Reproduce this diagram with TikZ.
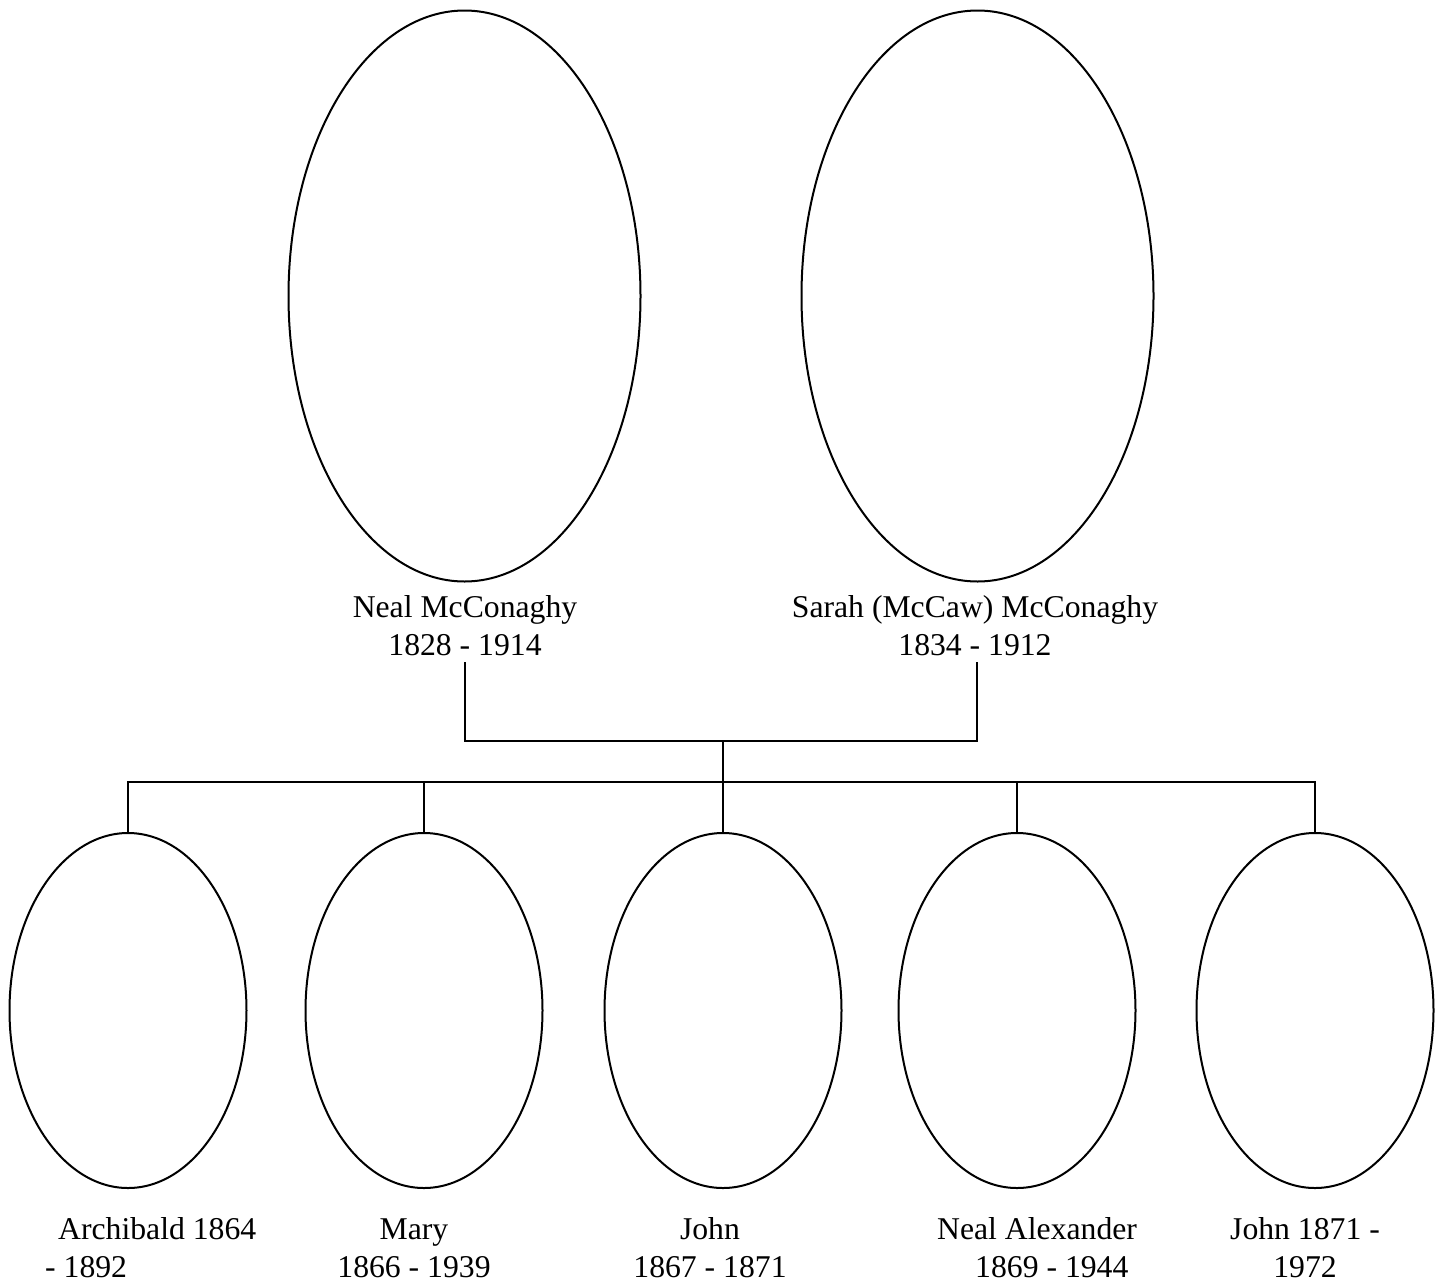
\documentclass[tikz,border=0pt]{standalone}
\usepackage{fontspec}
\setmainfont{Liberation Serif}
\usetikzlibrary{shapes.geometric}
\begin{document}
\begin{tikzpicture}[x=1pt,y=-1pt,
  parent/.style={draw, ellipse, line width=2pt, inner sep=0pt, outer sep=0pt,
                 minimum width=352pt, minimum height=571pt},
  child/.style={draw, ellipse, line width=2pt, inner sep=0pt, outer sep=0pt,
                minimum width=237pt, minimum height=355pt},
  lbl/.style={inner sep=0pt, font=\fontsize{31.7}{38}\selectfont},
  link/.style={line width=2pt}]
\useasboundingbox (0,0) rectangle (1443,1283);

% parents
\node[parent] (neal)  at (464.5,296) {};
\node[parent] (sarah) at (977.5,296) {};

\node[lbl, anchor=base] (lneal) at (465,617)
  {\begin{tabular}[t]{@{}c@{}}Neal McConaghy\\1828 - 1914\end{tabular}};
\node[lbl, anchor=base] (lsarah) at (975,617)
  {\begin{tabular}[t]{@{}c@{}}Sarah (McCaw) McConaghy\\1834 - 1912\end{tabular}};

% children
\node[child] (c1) at (128,1010.5) {};
\node[child] (c2) at (424,1010.5) {};
\node[child] (c3) at (723,1010.5) {};
\node[child] (c4) at (1017,1010.5) {};
\node[child] (c5) at (1315,1010.5) {};

\node[lbl, anchor=base west] (l1) at (45,1239)
  {\begin{tabular}[t]{@{}l@{}}\hspace*{13pt}Archibald 1864\\- 1892\end{tabular}};
\node[lbl, anchor=base] (l2) at (414,1239)
  {\begin{tabular}[t]{@{}c@{}}Mary\\1866 - 1939\end{tabular}};
\node[lbl, anchor=base] (l3) at (710,1239)
  {\begin{tabular}[t]{@{}c@{}}John\\1867 - 1871\end{tabular}};
\node[lbl, anchor=base west] (l4) at (937,1239)
  {\begin{tabular}[t]{@{}l@{}}Neal Alexander\\\hspace*{38pt}1869 - 1944\end{tabular}};
\node[lbl, anchor=base] (l5) at (1305,1239)
  {\begin{tabular}[t]{@{}c@{}}John 1871 -\\1972\end{tabular}};

% connector junctions
\coordinate (nealdrop)  at (465,662);
\coordinate (sarahdrop) at (977,662);
\coordinate (coupleline) at (723,741);
\coordinate (sibbar) at (723,782);

\draw[link] (nealdrop) |- (coupleline) -| (sarahdrop);
\draw[link] (coupleline) -- (c3.north);
\draw[link] (c1.north) -- (c1.north |- sibbar) -- (c5.north |- sibbar) -- (c5.north);
\draw[link] (c2.north) -- (c2.north |- sibbar);
\draw[link] (c4.north) -- (c4.north |- sibbar);
\end{tikzpicture}
\end{document}
